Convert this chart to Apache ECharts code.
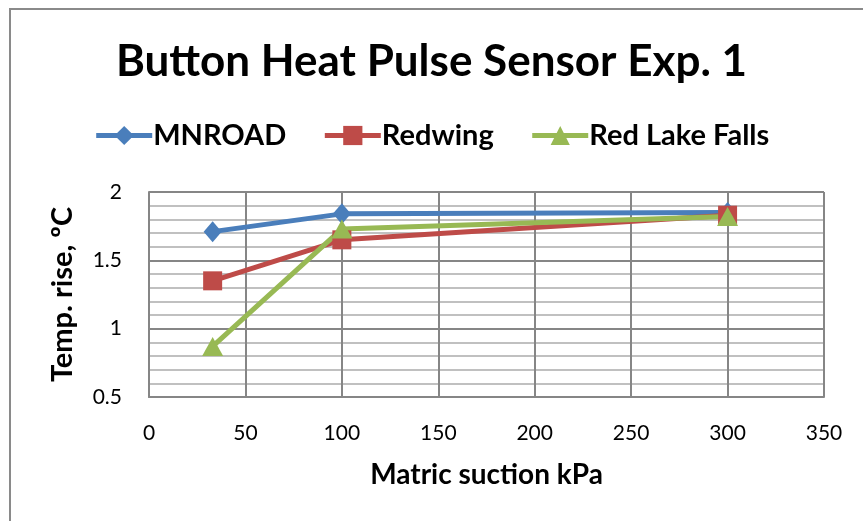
<!DOCTYPE html>
<html>
<head>
<meta charset="utf-8">
<script src="https://cdn.jsdelivr.net/npm/echarts@6/dist/echarts.min.js"></script>
<style>
  html, body { margin: 0; padding: 0; background: #fff; }
  #wrap { position: relative; width: 863px; height: 521px; overflow: hidden; }
  #frame { position: absolute; left: 9px; top: 8px; width: 900px; height: 600px;
           border-left: 2px solid #8a8a8a; border-top: 2px solid #8a8a8a; }
  #chart { position: absolute; left: 0; top: 0; width: 863px; height: 521px; }
</style>
</head>
<body>
<div id="wrap">
  <div id="frame"></div>
  <div id="chart"></div>
</div>
<script>
// values
const suction = [33, 100, 300]
const mnroad = [1.71, 1.84, 1.85]
const redwing = [1.35, 1.65, 1.83]
const redLakeFalls = [0.87, 1.73, 1.82]
const seriesNames = ['MNROAD', 'Redwing', 'Red Lake Falls']

const colors = ['#4a7ebb', '#be4b48', '#98b954']
const font = 'Lato, "Open Sans", sans-serif'

const pairs = vals => suction.map((x, i) => [x, vals[i]])

const chart = echarts.init(document.getElementById('chart'))
chart.setOption({
  animation: false,
  color: colors,
  title: {
    text: 'Button Heat Pulse Sensor Exp. 1',
    left: 'center',
    top: 35,
    textStyle: { fontFamily: font, fontSize: 44, fontWeight: 'bold', color: '#000' }
  },
  legend: {
    data: seriesNames,
    top: 116,
    left: 'center',
    itemWidth: 56,
    itemHeight: 24,
    itemGap: 36,
    lineStyle: { width: 5 },
    textStyle: { fontFamily: font, fontSize: 29, fontWeight: 'bold', color: '#000', padding: [0, 0, 0, -4] }
  },
  grid: { left: 149, right: 39, top: 192, bottom: 124 },
  xAxis: {
    type: 'value',
    min: 0,
    max: 350,
    interval: 50,
    name: 'Matric suction kPa',
    nameLocation: 'middle',
    nameGap: 64,
    nameTextStyle: { fontFamily: font, fontSize: 28, fontWeight: 'bold', color: '#000' },
    axisLine: { show: true, lineStyle: { color: '#868686', width: 2 } },
    axisTick: { show: false },
    axisLabel: { fontFamily: font, fontSize: 21, color: '#000', margin: 26 },
    splitLine: { show: true, lineStyle: { color: '#868686', width: 2 } }
  },
  yAxis: {
    type: 'value',
    min: 0.5,
    max: 2,
    interval: 0.5,
    name: 'Temp. rise, \u00baC',
    nameLocation: 'middle',
    nameGap: 72,
    nameTextStyle: { fontFamily: font, fontSize: 29, fontWeight: 'bold', color: '#000' },
    axisLine: { show: true, lineStyle: { color: '#868686', width: 2 } },
    axisTick: { show: false },
    axisLabel: { fontFamily: font, fontSize: 21, color: '#000', margin: 27 },
    splitLine: { show: true, lineStyle: { color: '#868686', width: 2 } },
    minorTick: { show: false, splitNumber: 5 },
    minorSplitLine: { show: true, lineStyle: { color: '#c0c0c0', width: 2 } }
  },
  series: [
    {
      name: seriesNames[0],
      type: 'line',
      data: pairs(mnroad),
      symbol: 'diamond',
      symbolSize: [18, 21],
      lineStyle: { width: 5 }
    },
    {
      name: seriesNames[1],
      type: 'line',
      data: pairs(redwing),
      symbol: 'rect',
      symbolSize: 19,
      lineStyle: { width: 5 }
    },
    {
      name: seriesNames[2],
      type: 'line',
      data: pairs(redLakeFalls),
      symbol: 'triangle',
      symbolSize: [21, 19],
      lineStyle: { width: 5 }
    }
  ]
})
</script>
</body>
</html>
